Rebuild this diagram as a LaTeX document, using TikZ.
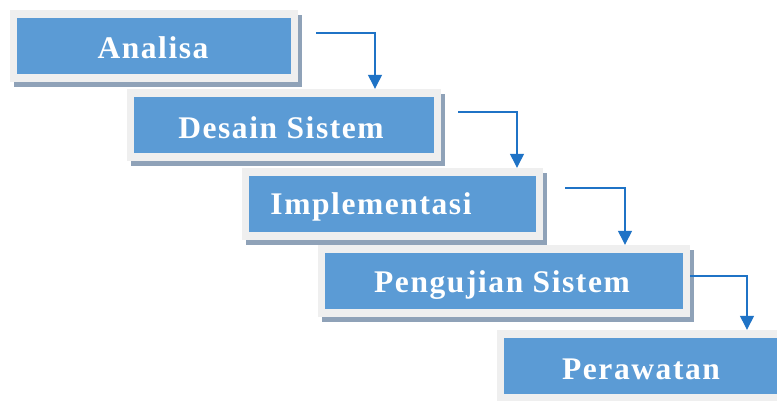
\documentclass[tikz,border=0pt]{standalone}
\usepackage{fontspec}
\newfontfamily\boxfont[LetterSpace=5]{Liberation Serif}
\usetikzlibrary{shadows,arrows.meta}
\definecolor{boxblue}{HTML}{5B9BD5}
\definecolor{framegray}{HTML}{EFEFEF}
\definecolor{shadowcol}{HTML}{8FA2B8}
\definecolor{conncol}{HTML}{1F73C6}
\tikzset{
  stagebox/.style={fill=framegray, draw=none, minimum height=72pt, inner sep=0pt,
    drop shadow={shadow xshift=4pt, shadow yshift=-5pt, opacity=1, fill=shadowcol}},
  stagetext/.style={text=white, inner sep=0pt, font=\boxfont\bfseries\fontsize{31.5}{36}\selectfont},
  conn/.style={draw=conncol, line width=1.3pt, -{Triangle[width=14pt,length=14pt]}},
}
\newcommand{\innerfill}[1]{\fill[boxblue] ([xshift=7.5pt,yshift=-8pt]#1.north west) rectangle ([xshift=-7.5pt,yshift=8pt]#1.south east);}
\begin{document}
\begin{tikzpicture}[x=1pt,y=-1pt]
\clip (0,0) rectangle (777,401);
\fill[white] (0,0) rectangle (777,401);
% boxes
\node[stagebox, minimum width=288pt] (b1) at (154,46) {};
\innerfill{b1}
\node[stagetext] (t1) at (153,48) {Analisa};
\node[stagebox, minimum width=314pt] (b2) at (284,125) {};
\innerfill{b2}
\node[stagetext] (t2) at (281,128) {Desain Sistem};
\node[stagebox, minimum width=301pt] (b3) at (392.5,204) {};
\innerfill{b3}
\node[stagetext] (t3) at (371,207) {Implementasi};
\node[stagebox, minimum width=372pt] (b4) at (504,281) {};
\innerfill{b4}
\node[stagetext] (t4) at (502,285) {Pengujian Sistem};
\node[stagebox, minimum width=320pt] (b5) at (657,366) {};
\innerfill{b5}
\node[stagetext] (t5) at (641,369) {Perawatan};
% connectors
\coordinate (s1) at (316,33);
\coordinate (k1) at (375,0);
\draw[conn] (s1) -| (k1 |- b2.north);
\coordinate (s2) at (458,112);
\coordinate (k2) at (517,0);
\draw[conn] (s2) -| (k2 |- b3.north);
\coordinate (s3) at (565,188);
\coordinate (k3) at (625,0);
\draw[conn] (s3) -| (k3 |- b4.north);
\coordinate (s4) at (690,276);
\coordinate (k4) at (747,0);
\draw[conn] (s4) -| (k4 |- b5.north);
\end{tikzpicture}
\end{document}
